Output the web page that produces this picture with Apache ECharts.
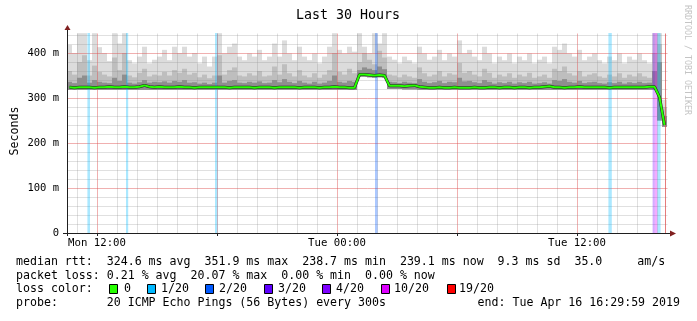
<!DOCTYPE html>
<html><head><meta charset="utf-8">
<script src="https://cdn.jsdelivr.net/npm/echarts@6/dist/echarts.min.js"></script>
<style>html,body{margin:0;padding:0;background:#fff}#c{width:697px;height:321px}</style>
</head><body><div id="c"></div>
<script>
// ---- data (hours since Mon 00:00; one bin = 15 minutes starting Mon 10:30) ----
const startHour = 10.5;
const binHours = 0.25;
const median = [
324,323,324,324,324,323,324,324,325,324,
324,325,324,324,325,328,325,324,325,324,
324,324,325,324,324,323,324,324,324,324,
324,324,323,324,324,324,324,323,324,324,
324,323,324,324,324,324,323,324,324,324,
323,324,324,325,324,324,323,323,
352,352,351,350,351,350,
327,327,327,326,327,328,
325,324,323,323,324,323,323,324,323,323,
323,324,323,323,324,324,323,324,324,323,
324,324,323,324,324,325,326,324,324,323,
324,324,325,324,324,324,324,324,323,324,
324,324,324,324,324,324,325,
325,302,240];
const rttMax = [
418,400,444,444,384,444,413,400,382,444,
421,444,384,377,392,414,377,385,392,407,
384,414,400,414,392,400,377,392,370,392,
444,399,414,421,392,384,399,392,407,384,
392,421,392,428,399,384,414,392,384,399,
377,392,414,444,407,399,414,403,
444,414,400,444,421,444,
392,385,377,392,384,377,
414,399,385,392,407,384,399,392,428,399,
407,392,384,414,399,377,392,384,399,377,
392,384,399,377,385,392,377,414,407,421,
399,392,407,384,392,399,384,377,392,384,
399,377,392,385,399,384,377,
444,444,296];
const rttMid = [
360,352,380,395,350,372,358,352,348,390,
362,400,350,346,356,365,348,352,350,358,
350,362,356,365,352,356,346,352,344,350,
395,352,362,368,350,348,355,350,360,348,
350,370,352,375,355,348,362,350,346,355,
345,352,362,400,358,352,365,355,
380,400,385,375,405,390,
352,350,346,352,348,345,
368,355,348,352,360,348,355,352,378,356,
360,352,348,365,356,345,352,348,355,345,
352,348,356,345,348,352,345,365,360,370,
355,350,360,348,352,355,348,345,352,348,
355,345,352,348,355,348,345,
400,420,280];
const rttDark = [
336,333,345,350,334,340,336,334,333,345,
338,352,334,332,335,340,334,336,335,337,
334,338,336,340,334,335,332,334,331,334,
350,334,338,340,334,333,336,334,337,333,
334,340,335,342,336,333,338,334,332,336,
332,334,338,350,336,334,338,336,
362,368,365,362,370,364,
336,335,333,336,334,333,
342,336,333,335,338,333,336,335,345,337,
338,335,333,340,336,332,335,333,336,332,
335,333,336,332,333,335,332,340,338,342,
336,334,338,333,335,336,333,332,335,333,
336,332,335,333,336,333,334,
360,380,260];
const rttMin = [
318,318,318,318,318,318,318,318,318,318,
318,318,318,318,318,318,318,318,318,318,
318,318,318,318,318,318,318,318,318,318,
318,318,318,318,318,318,318,318,318,318,
318,318,318,318,318,318,318,318,318,318,
318,318,318,318,318,318,318,318,
347,347,346,345,346,345,
320,320,320,319,319,319,
318,318,318,318,318,318,318,318,318,318,
318,318,318,318,318,318,318,318,318,318,
318,318,318,318,318,318,318,318,318,318,
318,318,318,318,318,318,318,318,318,318,
318,318,318,318,318,318,318,
318,250,236];
// loss events: [start hour, duration hours, lost pings of 20]
const lossEvents = [
  [11.52, 0.13, 1], [13.45, 0.11, 1], [17.90, 0.13, 1], [25.90, 0.13, 2],
  [37.57, 0.17, 1], [39.78, 0.11, 4], [39.89, 0.13, 10], [40.02, 0.16, 1]];
const lossLevels = [0, 1, 2, 3, 4, 10, 19];
const lossColors = ['#26ff00', '#00b8ff', '#0059ff', '#5e00ff', '#7e00ff', '#dd00ff', '#ff0000'];
const lossLabels = ['0', '1/20', '2/20', '3/20', '4/20', '10/20', '19/20'];
const xTickValues = [12, 18, 24, 30, 36];
const xLabelValues = [12, 24, 36];
const xLabelTexts = ['Mon 12:00', 'Tue 00:00', 'Tue 12:00'];
const yMajor = [0, 100, 200, 300, 400];
const yMax = 444.44;
const xMin = 10.5, xMax = 40.5;
const nowLine = 40.4;
const statLines = [
  'median rtt:  324.6 ms avg  351.9 ms max  238.7 ms min  239.1 ms now  9.3 ms sd  35.0     am/s',
  'packet loss: 0.21 % avg  20.07 % max  0.00 % min  0.00 % now'];
const probeText = 'probe:       20 ICMP Echo Pings (56 Bytes) every 300s';
const endText = 'end: Tue Apr 16 16:29:59 2019';
const titleText = 'Last 30 Hours';

// ---- build ----
const FONT = 'DejaVu Sans Mono';
function bandData(lo, hi) {
  return median.map((_, i) => [startHour + i * binHours, lo[i], hi[i]]);
}
function bandSeries(name, data, color, z) {
  return {
    type: 'custom', name, z, silent: true, clip: true, data,
    renderItem(params, api) {
      const p0 = api.coord([api.value(0), api.value(2)]);
      const p1 = api.coord([api.value(0) + binHours, api.value(1)]);
      return {type: 'rect', shape: {x: p0[0], y: p0[1], width: p1[0] - p0[0], height: p1[1] - p0[1]},
        style: {fill: color}};
    }
  };
}
const gridData = [];
for (let h = 11; h <= 40; h++) gridData.push([0, h, xTickValues.includes(h) ? 1 : 0]);
for (let v = 20; v <= 440; v += 20) gridData.push([1, v, yMajor.includes(v) ? 1 : 0]);
gridData.push([0, nowLine, 2]);

const medianData = median.map((v, i) => [startHour + (i + 0.5) * binHours, v]);

const chart = echarts.init(document.getElementById('c'), null, {renderer: 'canvas'});
const lossLegend = [];
const boxX = [109, 147, 205, 264, 322, 381, 447];
const txtX = [124, 161, 219, 278, 336, 394, 459];
lossLabels.forEach((t, i) => {
  lossLegend.push({type: 'rect', shape: {x: boxX[i] + 0.5, y: 284.5, width: 8, height: 9},
    style: {fill: lossColors[i], stroke: '#000', lineWidth: 1}});
  lossLegend.push({type: 'text', x: txtX[i], y: 289, style: {text: t, font: '11.6px "' + FONT + '"', fill: '#000', textVerticalAlign: 'middle'}});
});

chart.setOption({
  animation: false,
  backgroundColor: '#fff',
  grid: {left: 67, top: 33, width: 600, height: 200, containLabel: false},
  xAxis: {
    type: 'value', min: xMin, max: xMax,
    axisLine: {show: false},
    splitLine: {show: false},
    axisTick: {show: true, customValues: xTickValues, length: 3, lineStyle: {color: '#222'}},
    axisLabel: {customValues: xLabelValues, formatter: v => xLabelTexts[xLabelValues.indexOf(v)],
      fontFamily: FONT, fontSize: 10.7, color: '#000', margin: 5}
  },
  yAxis: {
    type: 'value', min: 0, max: yMax,
    axisLine: {show: false}, axisTick: {show: false}, splitLine: {show: false},
    axisLabel: {customValues: yMajor, formatter: v => v === 0 ? '0' : v + ' m',
      fontFamily: FONT, fontSize: 10.5, color: '#000', margin: 8}
  },
  series: [
    bandSeries('max', bandData(rttMin, rttMax), '#dcdcdc', 1),
    bandSeries('mid', bandData(rttMin, rttMid), '#bebebe', 2),
    bandSeries('dark', bandData(rttMin, rttDark), '#8e8e8e', 3),
    {
      type: 'custom', name: 'grid', z: 4, silent: true, data: gridData,
      renderItem(params, api) {
        const kind = api.value(0), pos = api.value(1), major = api.value(2);
        let a, b;
        if (kind === 0) { a = api.coord([pos, yMax]); b = api.coord([pos, 0]); }
        else { a = api.coord([xMin, pos]); b = api.coord([xMax, pos]); }
        const col = major === 2 ? 'rgba(222,80,80,0.75)' : major ? 'rgba(222,80,80,0.45)' : 'rgba(143,143,143,0.28)';
        const off = 0.5;
        return {type: 'line', shape: {x1: Math.round(a[0]) + off, y1: Math.round(a[1]) + off, x2: Math.round(b[0]) + off, y2: Math.round(b[1]) + off},
          style: {stroke: col, lineWidth: 1}};
      }
    },
    {
      type: 'custom', name: 'loss', z: 5, silent: true, data: lossEvents,
      renderItem(params, api) {
        const p0 = api.coord([api.value(0), yMax]);
        const p1 = api.coord([api.value(0) + api.value(1), 0]);
        const col = lossColors[lossLevels.indexOf(api.value(2))];
        return {type: 'rect', shape: {x: p0[0], y: p0[1], width: p1[0] - p0[0], height: p1[1] - p0[1]},
          style: {fill: col, opacity: 0.33}};
      }
    },
    {type: 'line', name: 'medianShadow', z: 6, data: medianData, symbol: 'none', silent: true,
      lineStyle: {color: '#222', width: 3}},
    {type: 'line', name: 'median', z: 7, data: medianData, symbol: 'none', silent: true,
      lineStyle: {color: '#26ff00', width: 2}}
  ],
  graphic: [
    {type: 'text', x: 348, y: 16, style: {text: titleText, font: '13.3px "' + FONT + '"', fill: '#000', textAlign: 'center', textVerticalAlign: 'middle'}},
    {type: 'text', x: 15, y: 131, rotation: Math.PI / 2, style: {text: 'Seconds', font: '11.6px "' + FONT + '"', fill: '#000', textAlign: 'center', textVerticalAlign: 'middle'}},
    {type: 'text', x: 687, y: 60, rotation: -Math.PI / 2, style: {text: 'RRDTOOL / TOBI OETIKER', font: '8.3px "' + FONT + '"', fill: '#c4c4c4', textAlign: 'center', textVerticalAlign: 'middle'}},
    // axes
    {type: 'line', shape: {x1: 63, y1: 233.5, x2: 671, y2: 233.5}, style: {stroke: '#1f1f1f', lineWidth: 1}, z: 10},
    {type: 'line', shape: {x1: 67.5, y1: 29, x2: 67.5, y2: 236}, style: {stroke: '#1f1f1f', lineWidth: 1}, z: 10},
    {type: 'polygon', shape: {points: [[64.5, 30], [70.5, 30], [67.5, 25]]}, style: {fill: '#801f1f'}, z: 10},
    {type: 'polygon', shape: {points: [[670, 230.5], [670, 236.5], [676, 233.5]]}, style: {fill: '#801f1f'}, z: 10},
    {type: 'text', x: 16, y: 262, style: {text: statLines[0], font: '11.6px "' + FONT + '"', fill: '#000', textVerticalAlign: 'middle'}},
    {type: 'text', x: 16, y: 275.5, style: {text: statLines[1], font: '11.6px "' + FONT + '"', fill: '#000', textVerticalAlign: 'middle'}},
    {type: 'text', x: 16, y: 289, style: {text: 'loss color:', font: '11.6px "' + FONT + '"', fill: '#000', textVerticalAlign: 'middle'}},
    ...lossLegend,
    {type: 'text', x: 16, y: 302.5, style: {text: probeText, font: '11.6px "' + FONT + '"', fill: '#000', textVerticalAlign: 'middle'}},
    {type: 'text', x: 680, y: 302.5, style: {text: endText, font: '11.6px "' + FONT + '"', fill: '#000', textAlign: 'right', textVerticalAlign: 'middle'}}
  ]
});
</script></body></html>
